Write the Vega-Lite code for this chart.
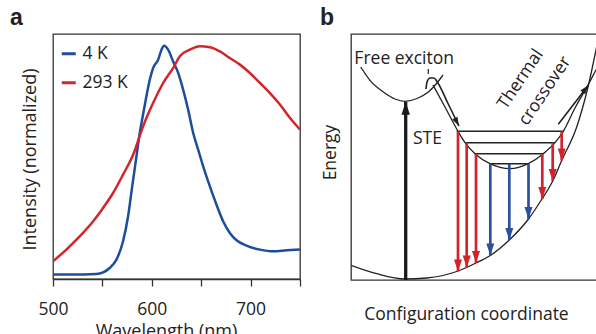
{
"$schema": "https://vega.github.io/schema/vega-lite/v6.json",
"padding": {"left": 9, "top": 6, "right": 0, "bottom": 0},
"bounds": "flush",
"spacing": 51,
"resolve": {"scale": {"color": "independent"}, "legend": {"color": "independent"}},
"config": {
  "font": "Open Sans",
  "view": {"stroke": "#333333", "strokeWidth": 1.3},
  "axis": {"labelFont": "Open Sans", "titleFont": "Open Sans", "labelColor": "#222222", "titleColor": "#222222", "titleFontWeight": "normal", "grid": false},
  "title": {"font": "Liberation Sans", "fontSize": 23, "fontWeight": "bold", "color": "#222222", "anchor": "start", "frame": "group", "offset": 0, "baseline": "alphabetic"}
},
"hconcat": [
{
  "width": 247, "height": 245,
  "title": {"text": "a", "dx": -43},
  "data": {"values": [
    {"s":"4 K","wl":500,"I":0.018},{"s":"4 K","wl":530.4,"I":0.018},{"s":"4 K","wl":543.9,"I":0.02},{"s":"4 K","wl":550.7,"I":0.027},{"s":"4 K","wl":557.4,"I":0.045},{"s":"4 K","wl":564.2,"I":0.079},{"s":"4 K","wl":570.9,"I":0.154},{"s":"4 K","wl":576.0,"I":0.256},{"s":"4 K","wl":580.4,"I":0.385},{"s":"4 K","wl":584.5,"I":0.501},{"s":"4 K","wl":587.8,"I":0.596},{"s":"4 K","wl":590.5,"I":0.657},{"s":"4 K","wl":593.9,"I":0.732},{"s":"4 K","wl":598.0,"I":0.814},{"s":"4 K","wl":601.3,"I":0.861},{"s":"4 K","wl":606.4,"I":0.895},{"s":"4 K","wl":609.8,"I":0.936},{"s":"4 K","wl":612.5,"I":0.952},{"s":"4 K","wl":616.5,"I":0.936},{"s":"4 K","wl":621.6,"I":0.888},{"s":"4 K","wl":626.7,"I":0.841},{"s":"4 K","wl":631.7,"I":0.773},{"s":"4 K","wl":636.8,"I":0.691},{"s":"4 K","wl":641.9,"I":0.596},{"s":"4 K","wl":646.9,"I":0.528},{"s":"4 K","wl":652.0,"I":0.46},{"s":"4 K","wl":658.8,"I":0.378},{"s":"4 K","wl":665.5,"I":0.303},{"s":"4 K","wl":672.3,"I":0.235},{"s":"4 K","wl":679.0,"I":0.188},{"s":"4 K","wl":685.8,"I":0.158},{"s":"4 K","wl":695.9,"I":0.136},{"s":"4 K","wl":709.5,"I":0.12},{"s":"4 K","wl":723.0,"I":0.113},{"s":"4 K","wl":736.5,"I":0.117},{"s":"4 K","wl":750,"I":0.12},
    {"s":"293 K","wl":500,"I":0.072},{"s":"293 K","wl":513.5,"I":0.12},{"s":"293 K","wl":527.0,"I":0.174},{"s":"293 K","wl":540.5,"I":0.235},{"s":"293 K","wl":550.7,"I":0.29},{"s":"293 K","wl":560.8,"I":0.351},{"s":"293 K","wl":570.9,"I":0.426},{"s":"293 K","wl":581.1,"I":0.507},{"s":"293 K","wl":591.2,"I":0.623},{"s":"293 K","wl":601.3,"I":0.718},{"s":"293 K","wl":611.5,"I":0.8},{"s":"293 K","wl":621.6,"I":0.861},{"s":"293 K","wl":628.4,"I":0.909},{"s":"293 K","wl":638.5,"I":0.936},{"s":"293 K","wl":648.6,"I":0.95},{"s":"293 K","wl":658.8,"I":0.946},{"s":"293 K","wl":668.9,"I":0.929},{"s":"293 K","wl":679.0,"I":0.902},{"s":"293 K","wl":689.2,"I":0.875},{"s":"293 K","wl":699.3,"I":0.841},{"s":"293 K","wl":709.5,"I":0.8},{"s":"293 K","wl":719.6,"I":0.759},{"s":"293 K","wl":729.7,"I":0.712},{"s":"293 K","wl":739.9,"I":0.657},{"s":"293 K","wl":750,"I":0.61}
  ]},
  "mark": {"type": "line", "strokeWidth": 2.5, "interpolate": "monotone", "clip": true},
  "encoding": {
    "x": {"field": "wl", "type": "quantitative", "scale": {"domain": [500, 750], "nice": false, "zero": false},
      "axis": {"values": [500,550,600,650,700,750], "labelExpr": "datum.value % 100 === 0 ? datum.label : ''", "tickSize": 7, "tickWidth": 1.3, "tickColor": "#333333", "domainColor": "#333333", "domainWidth": 1.3, "labelFontSize": 17.5, "labelPadding": 14, "labelFlush": false, "title": "Wavelength (nm)", "titleFontSize": 18, "titleBaseline": "alphabetic", "titleY": 57, "titleX": 113, "titleAlign": "center", "titleAnchor": null}},
    "y": {"field": "I", "type": "quantitative", "scale": {"domain": [0, 1], "nice": false},
      "axis": {"ticks": false, "labels": false, "domain": false, "title": "Intensity (normalized)", "titleFontSize": 18, "titleBaseline": "alphabetic", "titleX": -18, "titleY": 125, "titleAlign": "center"}},
    "color": {"field": "s", "type": "nominal", "scale": {"domain": ["4 K", "293 K"], "range": ["#1d4e9b", "#d2252c"]},
      "legend": {"orient": "none", "legendX": 7, "legendY": 11, "title": null, "symbolType": "stroke", "symbolStrokeWidth": 3, "symbolSize": 196, "labelFontSize": 17.5, "labelColor": "#222222", "labelFont": "Open Sans", "rowPadding": 10, "labelOffset": 5, "labelExpr": "datum.label === '4 K' ? '\u00a0\u00a04 K' : datum.label"}}
  }
},
{
  "width": 248, "height": 246,
  "title": {"text": "b", "dx": -31},
  "encoding": {
    "x": {"field": "C", "type": "quantitative", "scale": {"domain": [0, 248], "nice": false, "zero": false},
      "axis": {"ticks": false, "labels": false, "domain": false, "title": "Configuration coordinate", "titleFontSize": 17.5, "titleBaseline": "alphabetic", "titleY": 39, "titleX": 115, "titleAlign": "center"}},
    "y": {"field": "E", "type": "quantitative", "scale": {"domain": [0, 246], "nice": false, "zero": false},
      "axis": {"ticks": false, "labels": false, "domain": false, "title": "Energy", "titleFontSize": 17.5, "titleBaseline": "alphabetic", "titleX": -16, "titleY": 118, "titleAlign": "center"}}
  },
  "layer": [
    {
      "data": {"values": [
        {"curve":"ground","C":0,"E":14.7},{"curve":"ground","C":25.7,"E":6.3},{"curve":"ground","C":54,"E":1},{"curve":"ground","C":75.7,"E":2},{"curve":"ground","C":105.7,"E":8.5},{"curve":"ground","C":125,"E":17},{"curve":"ground","C":139.3,"E":24.5},{"curve":"ground","C":158.3,"E":40},{"curve":"ground","C":177.5,"E":61},{"curve":"ground","C":190,"E":79.5},{"curve":"ground","C":201.7,"E":99},{"curve":"ground","C":210.7,"E":119.5},{"curve":"ground","C":225.7,"E":153},{"curve":"ground","C":237,"E":193},{"curve":"ground","C":245,"E":230},{"curve":"ground","C":249,"E":250},
        {"curve":"fe","C":9.7,"E":213},{"curve":"fe","C":19,"E":199.7},{"curve":"fe","C":32.3,"E":188},{"curve":"fe","C":44,"E":181},{"curve":"fe","C":54,"E":178.7},{"curve":"fe","C":66,"E":181.5},{"curve":"fe","C":77.3,"E":188},{"curve":"fe","C":86,"E":197},{"curve":"fe","C":92,"E":205},
        {"curve":"ste","C":82,"E":195},{"curve":"ste","C":94,"E":173},{"curve":"ste","C":105.7,"E":151},{"curve":"ste","C":114,"E":137.3},{"curve":"ste","C":124,"E":126.3},{"curve":"ste","C":139,"E":116.3},{"curve":"ste","C":159,"E":111.3},{"curve":"ste","C":177.3,"E":116.3},{"curve":"ste","C":192.3,"E":126.3},{"curve":"ste","C":204,"E":137.3},{"curve":"ste","C":212.3,"E":148.7},{"curve":"ste","C":224,"E":172},{"curve":"ste","C":237,"E":195},{"curve":"ste","C":245,"E":210},{"curve":"ste","C":251,"E":221}
      ]},
      "mark": {"type": "line", "color": "#222222", "strokeWidth": 1.3, "interpolate": "monotone", "clip": true},
      "encoding": {"detail": {"field": "curve"}}
    },
    {
      "data": {"values": [
        {"path":"relax","C":75,"E":191},{"path":"relax","C":76,"E":198},{"path":"relax","C":79,"E":202},{"path":"relax","C":83,"E":202},{"path":"relax","C":86,"E":198.5},{"path":"relax","C":97,"E":176.5},{"path":"relax","C":108,"E":154},
        {"path":"thermal","C":207.3,"E":155.7},{"path":"thermal","C":237.3,"E":194.7}
      ]},
      "mark": {"type": "line", "color": "#222222", "strokeWidth": 1.6, "interpolate": "monotone", "clip": true},
      "encoding": {"detail": {"field": "path"}}
    },
    {
      "data": {"values": [
        {"C":105.7,"C1":212,"E":148.7},{"C":114,"C1":204,"E":137.3},{"C":124,"C1":192.3,"E":126.3},{"C":139,"C1":177.3,"E":116.3}
      ]},
      "mark": {"type": "rule", "color": "#222222", "strokeWidth": 1.4},
      "encoding": {"x2": {"field": "C1"}}
    },
    {
      "data": {"values": [{"C":77.3,"E":206,"E1":211}]},
      "mark": {"type": "rule", "color": "#222222", "strokeWidth": 1.2},
      "encoding": {"y2": {"field": "E1"}}
    },
    {
      "data": {"name": "drops", "values": [
        {"kind":"hot","C":107,"E":148.7,"E1":8.5},{"kind":"hot","C":115.7,"E":137.3,"E1":12.5},{"kind":"hot","C":125,"E":126.3,"E1":17},
        {"kind":"cold","C":139.3,"E":116.3,"E1":24.5},{"kind":"cold","C":158.3,"E":116.3,"E1":40},{"kind":"cold","C":177.5,"E":116.3,"E1":61},
        {"kind":"hot","C":191.3,"E":126.3,"E1":81},{"kind":"hot","C":201.7,"E":137.3,"E1":99},{"kind":"hot","C":210.7,"E":148.7,"E1":119.5}
      ]},
      "layer": [
        {
          "mark": {"type": "rule", "strokeWidth": 2.7},
          "encoding": {
            "y2": {"field": "E1"},
            "color": {"field": "kind", "type": "nominal", "scale": {"domain": ["hot", "cold"], "range": ["#d2232b", "#2c4f9e"]}, "legend": null}
          }
        },
        {
          "mark": {"type": "point", "shape": "M-1,-3L1,-3L0,0Z", "filled": true, "opacity": 1, "size": 64, "strokeWidth": 0},
          "encoding": {
            "y": {"field": "E1", "type": "quantitative", "scale": {"domain": [0, 246], "nice": false, "zero": false}},
            "color": {"field": "kind", "type": "nominal", "scale": {"domain": ["hot", "cold"], "range": ["#d2232b", "#2c4f9e"]}, "legend": null}
          }
        }
      ]
    },
    {
      "data": {"values": [{"C":54.7,"E":0,"E1":178}]},
      "layer": [
        {"mark": {"type": "rule", "color": "#1a1a1a", "strokeWidth": 3.3}, "encoding": {"y2": {"field": "E1"}}},
        {"mark": {"type": "point", "shape": "M-1,-3L1,-3L0,0Z", "filled": true, "opacity": 1, "size": 72, "strokeWidth": 0, "angle": 180, "color": "#1a1a1a"},
         "encoding": {"y": {"field": "E1", "type": "quantitative", "scale": {"domain": [0, 246], "nice": false, "zero": false}}}}
      ]
    },
    {
      "data": {"values": [{"C":108,"E":154}]},
      "mark": {"type": "point", "shape": "M-1,-3L1,-3L0,0Z", "filled": true, "opacity": 1, "size": 36, "strokeWidth": 0, "angle": -28, "color": "#222222"}
    },
    {
      "data": {"values": [{"C":237.3,"E":194.7}]},
      "mark": {"type": "point", "shape": "M-1,-3L1,-3L0,0Z", "filled": true, "opacity": 1, "size": 36, "strokeWidth": 0, "angle": -142, "color": "#222222"}
    },
    {
      "data": {"values": [{"label":"Free exciton","C":53.2,"E":215.7},{"label":"STE","C":76.5,"E":136.3}]},
      "mark": {"type": "text", "font": "Open Sans", "fontSize": 17.5, "color": "#222222", "align": "center", "baseline": "alphabetic"},
      "encoding": {"text": {"field": "label"}}
    },
    {
      "data": {"values": [{"label":"Thermal","C":169.7,"E":200.7},{"label":"crossover","C":194,"E":189}]},
      "mark": {"type": "text", "font": "Open Sans", "fontSize": 17.5, "color": "#222222", "align": "center", "baseline": "middle", "angle": -56},
      "encoding": {"text": {"field": "label"}}
    }
  ]
}
]
}
